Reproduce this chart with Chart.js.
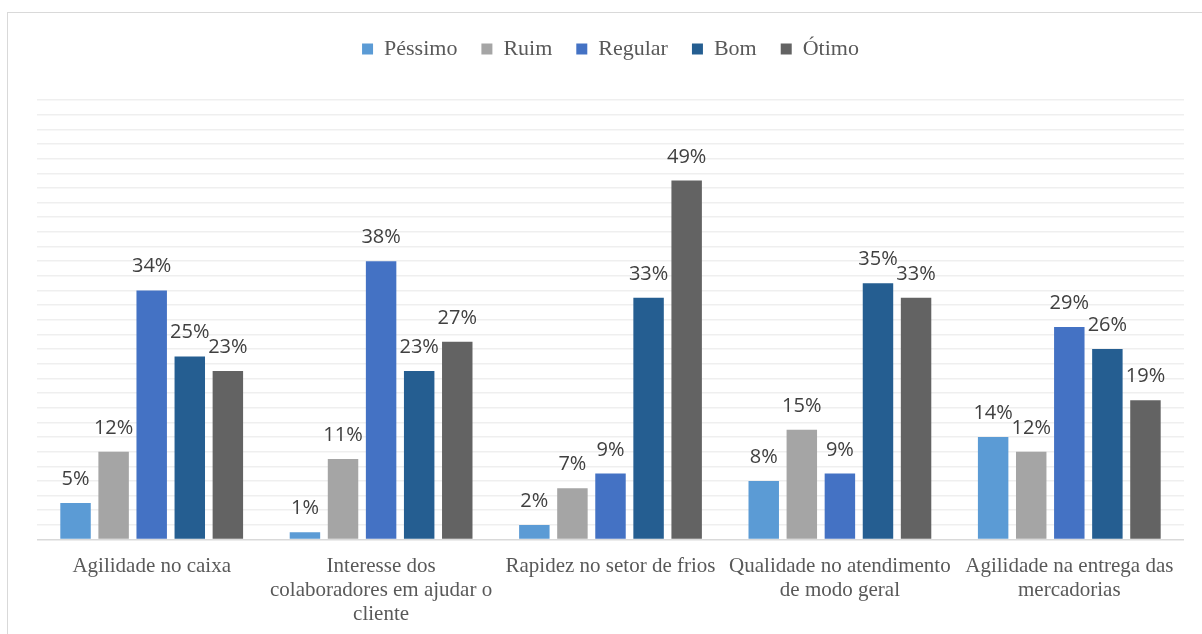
<!DOCTYPE html>
<html>
<head>
<meta charset="utf-8">
<script src="https://cdn.jsdelivr.net/npm/chart.js@4.4.0/dist/chart.umd.min.js"></script>
<style>
  html, body { margin: 0; padding: 0; background: #fff; overflow: hidden; }
  #frame { position: absolute; left: 7px; top: 12px; width: 1220px; height: 700px; border: 1px solid #d9d9d9; }
  #wrap { position: absolute; left: 0; top: 0; width: 1202px; height: 634px; }
</style>
</head>
<body>
<div id="frame"></div>
<div id="wrap"><canvas id="chart-bars"></canvas></div>
<script>
// avaliacao do atendimento

const categorias = [
  "Agilidade no caixa",
  ["Interesse dos", "colaboradores em ajudar o", "cliente"],
  "Rapidez no setor de frios",
  ["Qualidade no atendimento", "de modo geral"],
  ["Agilidade na entrega das", "mercadorias"],
];
const pessimo = [5, 1, 2, 8, 14];
const ruim = [12, 11, 7, 15, 12];
const regular = [34, 38, 9, 9, 29];
const bom = [25, 23, 33, 35, 26];
const otimo = [23, 27, 49, 33, 19];

// rotulos em cima das barras
const rotulos = {
  id: "rotulos",
  afterDatasetsDraw(chart) {
    const ctx = chart.ctx;
    ctx.save();
    ctx.font = "20px 'Open Sans'";
    ctx.fillStyle = "#404040";
    ctx.textAlign = "center";
    ctx.textBaseline = "alphabetic";
    chart.data.datasets.forEach((ds, i) => {
      chart.getDatasetMeta(i).data.forEach((bar, j) => {
        ctx.fillText(ds.data[j] + "%", bar.x, bar.y - 18);
      });
    });
    ctx.restore();
  },
};

// espaco extra abaixo da legenda
const legendaEspaco = {
  id: "legendaEspaco",
  beforeInit(chart) {
    const fit = chart.legend.fit;
    chart.legend.fit = function () {
      fit.bind(chart.legend)();
      this.height += 30;
    };
  },
};

new Chart("chart-bars", {
  type: "bar",
  data: {
    labels: categorias,
    datasets: [
      { label: "Péssimo", data: pessimo, backgroundColor: "#5b9bd5" },
      { label: "Ruim", data: ruim, backgroundColor: "#a5a5a5" },
      { label: "Regular", data: regular, backgroundColor: "#4472c4" },
      { label: "Bom", data: bom, backgroundColor: "#255e91" },
      { label: "Ótimo", data: otimo, backgroundColor: "#636363" },
    ],
  },
  options: {
    responsive: true,
    maintainAspectRatio: false,
    animation: false,
    categoryPercentage: 0.83,
    barPercentage: 0.8,
    layout: {
      padding: { left: 37, right: 18, top: 14, bottom: -8 },
    },
    plugins: {
      legend: {
        display: true,
        position: "top",
        labels: {
          boxWidth: 11,
          boxHeight: 11,
          padding: 24,
          color: "#595959",
          font: { family: "'Liberation Serif'", size: 22 },
        },
      },
      tooltip: { enabled: false },
    },
    scales: {
      y: {
        min: 0,
        max: 60,
        ticks: { display: false, stepSize: 2 },
        border: { display: false },
        grid: {
          drawTicks: false,
          lineWidth: 1.5,
          color: (c) => (c.tick && c.tick.value === 0 ? "#d9d9d9" : "#efefef"),
        },
      },
      x: {
        border: { display: false },
        grid: { display: false, drawTicks: false },
        ticks: {
          padding: 15,
          color: "#595959",
          maxRotation: 0,
          autoSkip: false,
          font: { family: "'Liberation Serif'", size: 21, lineHeight: 1.15 },
        },
      },
    },
  },
  plugins: [rotulos, legendaEspaco],
});
</script>
</body>
</html>
